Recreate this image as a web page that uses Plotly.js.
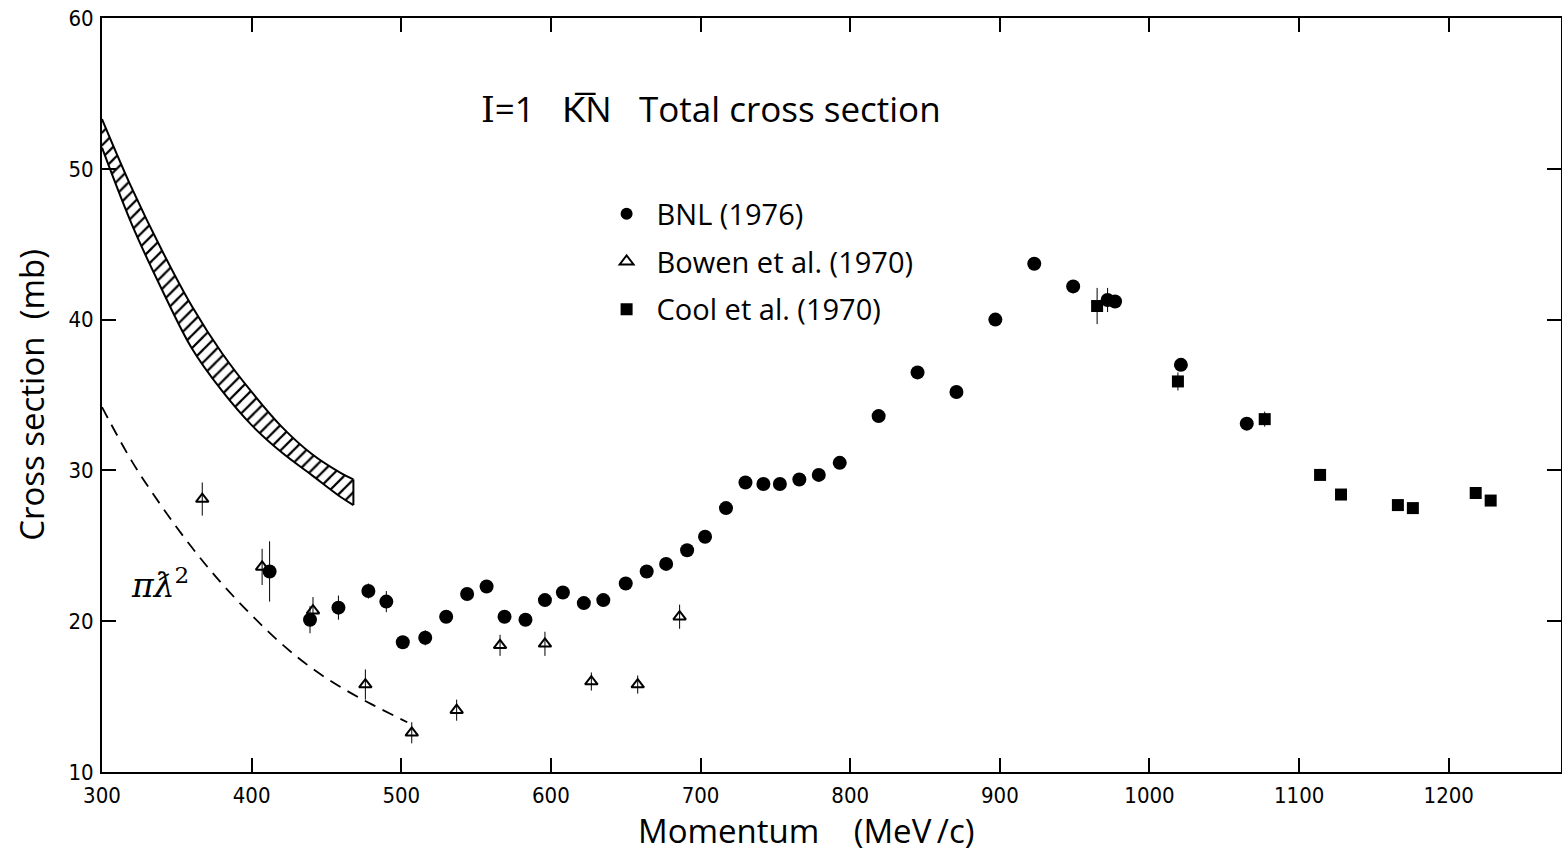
<!DOCTYPE html>
<html>
<head>
<meta charset="utf-8">
<script src="https://cdn.plot.ly/plotly-3.0.1.min.js"></script>
<style>html,body{margin:0;padding:0;background:#fff;}#chart{width:1562px;height:853px;}</style>
</head>
<body>
<div id="chart"></div>
<script>
// ---- data ----
const bnlX = [412, 439, 458, 478, 490, 501, 516, 530, 544, 557, 569, 583, 596, 608, 622, 635, 650, 664, 677, 691, 703, 717, 730, 742, 753, 766, 779, 793, 819, 845, 871, 897, 923, 949, 972, 977, 1021, 1065];
const bnlY = [23.3, 20.1, 20.9, 22.0, 21.3, 18.6, 18.9, 20.3, 21.8, 22.3, 20.3, 20.1, 21.4, 21.9, 21.2, 21.4, 22.5, 23.3, 23.8, 24.7, 25.6, 27.5, 29.2, 29.1, 29.1, 29.4, 29.7, 30.5, 33.6, 36.5, 35.2, 40.0, 43.7, 42.2, 41.3, 41.2, 37.0, 33.1];
const bnlErr = [2.0, 0.9, 0.8, 0.5, 0.7, 0, 0.5, 0, 0, 0, 0, 0, 0, 0, 0, 0, 0, 0, 0, 0, 0.4, 0, 0, 0, 0, 0, 0, 0, 0, 0, 0, 0, 0, 0, 0.8, 0, 0, 0];

const bowenX = [367, 407, 441, 476, 507, 537, 566, 596, 627, 658, 686];
const bowenY = [28.1, 23.6, 20.7, 15.8, 12.6, 14.1, 18.4, 18.5, 16.0, 15.8, 20.3];
const bowenErr = [1.1, 1.2, 0.9, 1.0, 0.7, 0.7, 0.7, 0.8, 0.6, 0.6, 0.8];

const coolX = [965, 1019, 1077, 1114, 1128, 1166, 1176, 1218, 1228];
const coolY = [40.9, 35.9, 33.4, 29.7, 28.4, 27.7, 27.5, 28.5, 28.0];
const coolErr = [1.2, 0.6, 0.5, 0, 0, 0, 0, 0, 0];

const bandX = [300, 320, 340, 360, 380, 400, 420, 440, 460, 468];
const bandHi = [53.3, 48.7, 44.6, 40.9, 37.8, 35.2, 32.9, 31.1, 29.8, 29.4];
const bandLo = [51.4, 46.3, 42.0, 38.1, 35.3, 33.0, 31.2, 29.7, 28.2, 27.7];

const piX = [300, 320, 340, 360, 380, 400, 420, 440, 460, 480, 504];
const piY = [34.2, 30.6, 27.6, 24.9, 22.5, 20.4, 18.5, 16.9, 15.6, 14.5, 13.3];

const xTicks = [300, 400, 500, 600, 700, 800, 900, 1000, 1100, 1200];
const yTicks = [10, 20, 30, 40, 50, 60];

const seriesNames = ["BNL (1976)", "Bowen et al. (1970)", "Cool et al. (1970)"];
const titleText = "<span style='font-family:\"DejaVu Serif\",serif'>I</span>=1\u00a0\u00a0\u00a0K\u0305N\u00a0\u00a0\u00a0Total cross section";
const xTitleText = "Momentum\u00a0\u00a0\u00a0\u00a0(MeV\u2009/c)";
const yTitleText = "Cross section\u00a0\u00a0(mb)";

// ---- styles ----
const txtFont = "'Open Sans', Lato, 'Noto Sans', sans-serif";
const tickFont = "'Liberation Sans Narrow', 'DejaVu Sans Condensed', 'Liberation Sans', sans-serif";

const last = bandX.length - 1;
const errStyle = (arr) => ({type: 'data', array: arr, visible: true, color: 'black', thickness: 1, width: 0});

const traces = [
  {
    x: bandX, y: bandLo, type: 'scatter', mode: 'lines',
    line: {color: 'black', width: 2, shape: 'spline'}, showlegend: false, hoverinfo: 'skip'
  },
  {
    x: bandX, y: bandHi, type: 'scatter', mode: 'lines', fill: 'tonexty',
    fillcolor: 'white',
    fillpattern: {shape: '/', fgcolor: 'black', bgcolor: 'white', size: 9, solidity: 0.25},
    line: {color: 'black', width: 2, shape: 'spline'}, showlegend: false, hoverinfo: 'skip'
  },
  {
    x: [bandX[last], bandX[last]], y: [bandLo[last], bandHi[last]], type: 'scatter', mode: 'lines',
    line: {color: 'black', width: 2}, showlegend: false, hoverinfo: 'skip'
  },
  {
    x: piX, y: piY, type: 'scatter', mode: 'lines',
    line: {color: 'black', width: 1.8, dash: '12px,8px', shape: 'spline'},
    showlegend: false
  },
  {
    x: bnlX, y: bnlY, type: 'scatter', mode: 'markers', name: seriesNames[0], legendgroup: 'a',
    marker: {symbol: 'circle', size: 14, color: 'black'},
    error_y: errStyle(bnlErr)
  },
  {
    x: bowenX, y: bowenY, type: 'scatter', mode: 'markers', name: seriesNames[1], legendgroup: 'b',
    marker: {symbol: 'triangle-up-open', size: 11, color: 'black', line: {width: 2, color: 'black'}},
    error_y: errStyle(bowenErr)
  },
  {
    x: coolX, y: coolY, type: 'scatter', mode: 'markers', name: seriesNames[2], legendgroup: 'c',
    marker: {symbol: 'square', size: 12, color: 'black'},
    error_y: errStyle(coolErr)
  }
];

const axisCommon = {
  showgrid: false, zeroline: false, showline: true, linecolor: 'black', linewidth: 2,
  mirror: 'ticks', ticks: 'inside', ticklen: 14, tickwidth: 2, tickcolor: 'black',
  tickfont: {family: tickFont, size: 22, color: 'black'}
};

const layout = {
  width: 1562, height: 853,
  paper_bgcolor: 'white', plot_bgcolor: 'white',
  margin: {l: 102, r: 1, t: 18, b: 81},
  showlegend: true,
  legend: {
    x: 0.339, y: 0.774, xanchor: 'left', yanchor: 'top',
    font: {family: txtFont, size: 29, color: 'black'},
    bgcolor: 'rgba(0,0,0,0)', borderwidth: 0,
    tracegroupgap: 7, itemsizing: 'constant', itemwidth: 50
  },
  xaxis: Object.assign({}, axisCommon, {
    range: [300, 1275], tickvals: xTicks, ticktext: xTicks.map(String),
    ticklabelstandoff: 3
  }),
  yaxis: Object.assign({}, axisCommon, {
    range: [10, 60], tickvals: yTicks, ticktext: yTicks.map(String),
    ticklabelstandoff: 2,
    title: {text: yTitleText, font: {family: txtFont, size: 33, color: 'black'}, standoff: 14}
  }),
  annotations: [
    {
      text: titleText, xref: 'paper', yref: 'paper', x: 0.4174, y: 0.8806,
      xanchor: 'center', yanchor: 'middle', showarrow: false,
      font: {family: txtFont, size: 35, color: 'black'}
    },
    {
      text: xTitleText, xref: 'paper', yref: 'paper', x: 0.4825, y: -0.078,
      xanchor: 'center', yanchor: 'middle', showarrow: false,
      font: {family: txtFont, size: 33, color: 'black'}
    },
    {
      text: "<i>\u03c0\u019b</i><sup>2</sup>", xref: 'x', yref: 'y', x: 339, y: 22.5,
      xanchor: 'center', yanchor: 'middle', showarrow: false,
      font: {family: "'DejaVu Serif', 'Liberation Serif', serif", size: 33, color: 'black'}
    }
  ]
};

Plotly.newPlot('chart', traces, layout, {displayModeBar: false, staticPlot: true});
</script>
</body>
</html>
